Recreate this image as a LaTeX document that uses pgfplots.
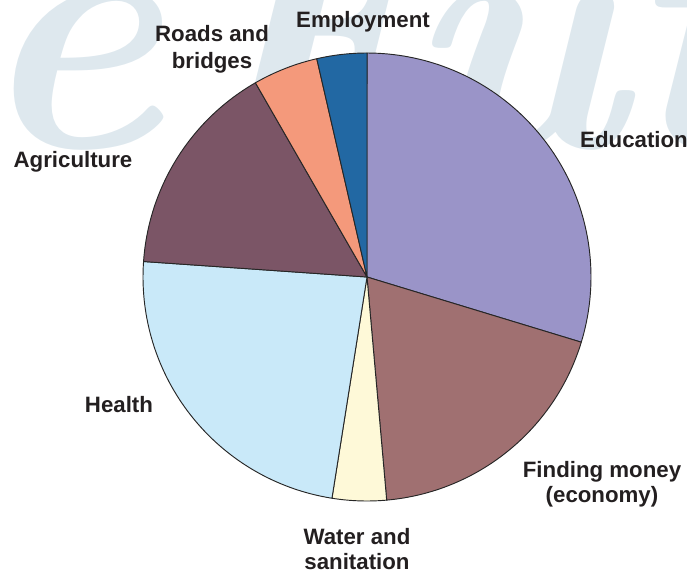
\documentclass[border=0pt]{standalone}
\usepackage{pgfplots}
\usepackage{pgfplotstable}
\pgfplotsset{compat=1.18}
\usepackage{fontspec}
\setmainfont{Liberation Sans}
\newfontfamily\wmfont{Latin Modern Roman}
\definecolor{cEdu}{HTML}{9A94C8}
\definecolor{cFin}{HTML}{A07071}
\definecolor{cWat}{HTML}{FEF9D8}
\definecolor{cHea}{HTML}{C9E9F9}
\definecolor{cAgr}{HTML}{7B5566}
\definecolor{cRoa}{HTML}{F4997B}
\definecolor{cEmp}{HTML}{2268A3}
\definecolor{wm}{HTML}{DEE8EE}
\definecolor{txt}{HTML}{231F20}
\tikzset{lbl/.style={anchor=base, font=\fontsize{19}{23}\selectfont\bfseries, text=txt, inner sep=0pt},
  wmk/.style={overlay, inner sep=0pt, text=wm, font=\wmfont\fontsize{300}{300}\selectfont\bfseries\itshape}}
\pgfplotstableread{
name value
Education 29.7
Finding 18.9
Water 3.9
Health 23.6
Agriculture 15.6
Roads 4.7
Employment 3.6
}\piedata
\begin{document}
\begin{tikzpicture}
\pgfplotstablegetelem{0}{value}\of\piedata \pgfmathsetmacro\bA{90-3.6*\pgfplotsretval}
\pgfplotstablegetelem{1}{value}\of\piedata \pgfmathsetmacro\bB{\bA-3.6*\pgfplotsretval}
\pgfplotstablegetelem{2}{value}\of\piedata \pgfmathsetmacro\bC{\bB-3.6*\pgfplotsretval}
\pgfplotstablegetelem{3}{value}\of\piedata \pgfmathsetmacro\bD{\bC-3.6*\pgfplotsretval}
\pgfplotstablegetelem{4}{value}\of\piedata \pgfmathsetmacro\bE{\bD-3.6*\pgfplotsretval}
\pgfplotstablegetelem{5}{value}\of\piedata \pgfmathsetmacro\bF{\bE-3.6*\pgfplotsretval}
\pgfplotstablegetelem{6}{value}\of\piedata \pgfmathsetmacro\bG{\bF-3.6*\pgfplotsretval}
\useasboundingbox (0,0) rectangle (20.61cm,17.37cm);
\begin{axis}[
  at={(0,0)}, anchor=south west,
  scale only axis, width=20.61cm, height=17.37cm,
  xmin=0, xmax=687, ymin=0, ymax=579,
  hide axis, clip=false,
  every axis plot/.append style={draw=black!85, line width=0.8pt, line join=round},
]
% watermark
\node[wmk, anchor=base east] at (axis cs:162,432) {pe};
\node[wmk, anchor=base west] at (axis cs:180,432) {Futu};
% slices
\addplot[fill=cEdu, domain=\bA:90, samples=80] ({367+224*cos(x)},{302+224*sin(x)}) -- (axis cs:367,302) -- cycle;
\addplot[fill=cFin, domain=\bB:\bA, samples=60] ({367+224*cos(x)},{302+224*sin(x)}) -- (axis cs:367,302) -- cycle;
\addplot[fill=cWat, domain=\bC:\bB, samples=20] ({367+224*cos(x)},{302+224*sin(x)}) -- (axis cs:367,302) -- cycle;
\addplot[fill=cHea, domain=\bD:\bC, samples=70] ({367+224*cos(x)},{302+224*sin(x)}) -- (axis cs:367,302) -- cycle;
\addplot[fill=cAgr, domain=\bE:\bD, samples=50] ({367+224*cos(x)},{302+224*sin(x)}) -- (axis cs:367,302) -- cycle;
\addplot[fill=cRoa, domain=\bF:\bE, samples=20] ({367+224*cos(x)},{302+224*sin(x)}) -- (axis cs:367,302) -- cycle;
\addplot[fill=cEmp, domain=\bG:\bF, samples=20] ({367+224*cos(x)},{302+224*sin(x)}) -- (axis cs:367,302) -- cycle;
% labels
\node[lbl] at (axis cs:363,551) {Employment};
\node[lbl] at (axis cs:212,537) {Roads and};
\node[lbl] at (axis cs:212,510) {bridges};
\node[lbl, anchor=base west] at (axis cs:580,431) {Education};
\node[lbl] at (axis cs:73,412) {Agriculture};
\node[lbl] at (axis cs:119,167) {Health};
\node[lbl] at (axis cs:602,102) {Finding money};
\node[lbl] at (axis cs:602,77) {(economy)};
\node[lbl] at (axis cs:357,35) {Water and};
\node[lbl] at (axis cs:357,10) {sanitation};
\end{axis}
\end{tikzpicture}
\end{document}
